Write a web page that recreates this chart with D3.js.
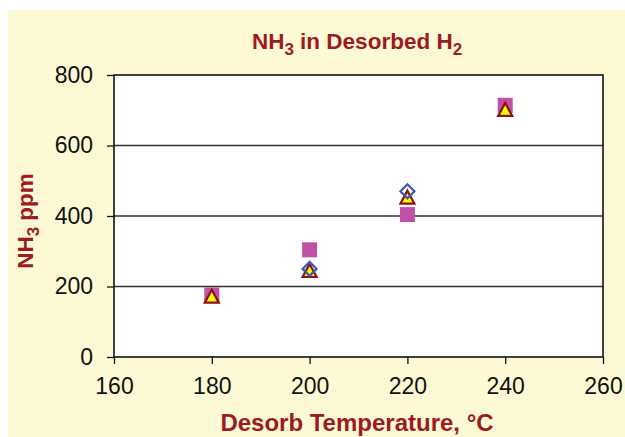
<!DOCTYPE html>
<html><head><meta charset="utf-8">
<script src="https://cdn.jsdelivr.net/npm/d3@7"></script>
<style>body{margin:0;background:#fff;} text{font-family:"Liberation Sans",Arial,sans-serif;}</style>
</head><body><svg id="c" width="625" height="437"></svg>
<script>
const xTicks = [160, 180, 200, 220, 240, 260];
const yTicks = [0, 200, 400, 600, 800];
const gridValues = [200, 400, 600];
const squareTemps = [180, 200, 220, 240];
const squareVals = [176, 304, 404, 714];
const triangleTemps = [180, 200, 220, 240];
const triangleVals = [171, 244, 452, 701];
const diamondTemps = [200, 220];
const diamondVals = [250, 470];

const svg = d3.select("#c");
svg.append("rect").attr("x",8).attr("y",10).attr("width",617).attr("height",427).attr("fill","#fcf9d4");
const L=114, R=603, T=75, B=357;
const x = d3.scaleLinear().domain([160,260]).range([L,R]);
const y = d3.scaleLinear().domain([0,800]).range([B,T]);

svg.append("rect").attr("x",L).attr("y",T).attr("width",R-L).attr("height",B-T).attr("fill","#fff");
svg.append("g").selectAll("line").data(gridValues).join("line")
  .attr("x1",L).attr("x2",R).attr("y1",d=>y(d)).attr("y2",d=>y(d))
  .attr("stroke","#333").attr("stroke-width",1.3);
svg.append("rect").attr("x",L).attr("y",T).attr("width",R-L).attr("height",B-T)
  .attr("fill","none").attr("stroke","#111").attr("stroke-width",1.6);

const ya = svg.append("g").attr("transform",`translate(${L},0)`)
  .call(d3.axisLeft(y).tickValues(yTicks).tickSize(7).tickPadding(14).tickSizeOuter(0));
const xa = svg.append("g").attr("transform",`translate(0,${B})`)
  .call(d3.axisBottom(x).tickValues(xTicks).tickSize(7).tickPadding(14).tickSizeOuter(0));
[ya,xa].forEach(a=>{
  a.select(".domain").remove();
  a.selectAll("line").attr("stroke","#111").attr("stroke-width",1.3);
  a.selectAll("text").attr("font-size",23).attr("fill","#111").style("font-family","Liberation Sans, Arial, sans-serif");
});

const red="#9b1b22";
const t = svg.append("text").attr("x",357).attr("y",49).attr("text-anchor","middle")
  .attr("fill",red).attr("font-weight","bold").attr("font-size",22.5);
t.append("tspan").text("NH");
t.append("tspan").text("3").attr("font-size",17).attr("dy",6);
t.append("tspan").text(" in Desorbed H").attr("dy",-6);
t.append("tspan").text("2").attr("font-size",17).attr("dy",6);

svg.append("text").attr("x",357).attr("y",431).attr("text-anchor","middle")
  .attr("fill",red).attr("font-weight","bold").attr("font-size",24).text("Desorb Temperature, °C");

const yt = svg.append("text").attr("transform","translate(33,221) rotate(-90)").attr("text-anchor","middle")
  .attr("fill",red).attr("font-weight","bold").attr("font-size",22.5);
yt.append("tspan").text("NH");
yt.append("tspan").text("3").attr("font-size",17).attr("dy",6);
yt.append("tspan").text(" ppm").attr("dy",-6);

const sq = squareTemps.map((t,i)=>[t,squareVals[i]]);
const tr = triangleTemps.map((t,i)=>[t,triangleVals[i]]);
const dm = diamondTemps.map((t,i)=>[t,diamondVals[i]]);
svg.append("g").selectAll("rect").data(sq).join("rect")
  .attr("x",d=>x(d[0])-7.5).attr("y",d=>y(d[1])-7.5).attr("width",15).attr("height",15)
  .attr("fill","#c052a6");
svg.append("g").selectAll("path").data(tr).join("path")
  .attr("transform",d=>`translate(${x(d[0])},${y(d[1])})`)
  .attr("d","M0,-7 L7,6 L-7,6 Z").attr("fill","#ffff00").attr("stroke","#8b1010").attr("stroke-width",2.2);
svg.append("g").selectAll("path").data(dm).join("path")
  .attr("transform",d=>`translate(${x(d[0])},${y(d[1])})`)
  .attr("d","M0,-7 L7,0 L0,7 L-7,0 Z").attr("fill","none").attr("stroke","#3a5bb5").attr("stroke-width",2.2);
</script></body></html>
